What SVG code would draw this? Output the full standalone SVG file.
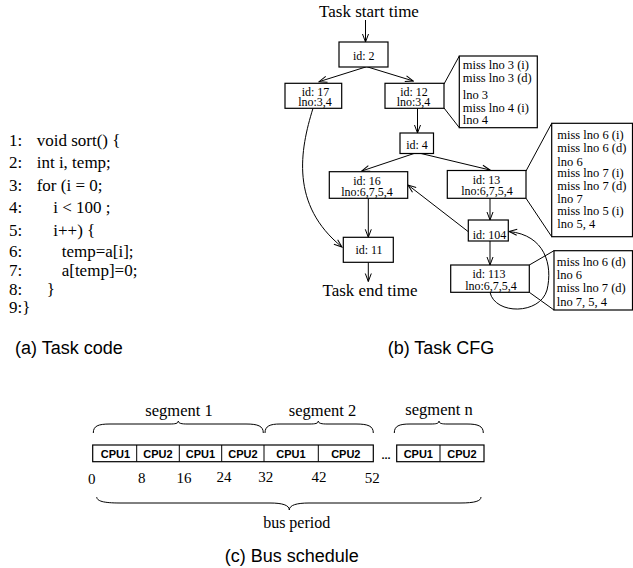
<svg xmlns="http://www.w3.org/2000/svg" width="633" height="568" viewBox="0 0 633 568">
<style>
.s{font-family:"Liberation Serif",serif;fill:#000}
.code{font-size:17px}
.big{font-size:17px}
.bx{font-size:12px;text-anchor:middle}
.dt{font-size:12.5px}
.cap{font-family:"Liberation Sans",sans-serif;font-size:18px;fill:#000}
.cpu{font-family:"Liberation Sans",sans-serif;font-size:11px;font-weight:bold;text-anchor:middle}
.num{font-size:15px;text-anchor:middle}
.box{fill:#fff;stroke:#000;stroke-width:1.2}
.ln{fill:none;stroke:#000;stroke-width:1}
.ar{fill:none;stroke:#000;stroke-width:1;marker-end:url(#ah)}
</style>
<defs>
<marker id="ah" markerWidth="10" markerHeight="8" refX="9" refY="4" orient="auto" markerUnits="userSpaceOnUse">
<path d="M1,1 L9,4 L1,7" fill="none" stroke="#000" stroke-width="1"/>
</marker>
</defs>
<rect width="633" height="568" fill="#fff"/>

<g id="code" class="s code">
<text x="9" y="146">1:</text><text x="36.7" y="146">void sort() {</text>
<text x="9" y="168">2:</text><text x="36.7" y="168">int i, temp;</text>
<text x="9" y="190.5">3:</text><text x="36.7" y="190.5">for (i = 0;</text>
<text x="9" y="213">4:</text><text x="53.3" y="213">i &lt; 100 ;</text>
<text x="9" y="235.5">5:</text><text x="53.3" y="235.5">i++) {</text>
<text x="9" y="257">6:</text><text x="61.7" y="257">temp=a[i];</text>
<text x="9" y="275.5">7:</text><text x="61.7" y="275.5">a[temp]=0;</text>
<text x="9" y="295">8:</text><text x="46.7" y="295">}</text>
<text x="9" y="313.3">9:}</text>
</g>
<text class="cap" x="15" y="354">(a) Task code</text>

<g id="connectors">
<line class="ar" x1="365.5" y1="20" x2="365.5" y2="42"/>
<line class="ar" x1="366.7" y1="66.7" x2="319" y2="81.7"/>
<line class="ar" x1="366.7" y1="66.7" x2="413.3" y2="81"/>
<line class="ar" x1="417.5" y1="108.3" x2="417.5" y2="133"/>
<line class="ar" x1="414" y1="153.5" x2="361.7" y2="171"/>
<line class="ar" x1="421" y1="153.5" x2="490" y2="170"/>
<path class="ar" d="M313,108.3 C300,150 290,205 342,247"/>
<line class="ar" x1="368.3" y1="198.3" x2="368.3" y2="237.3"/>
<line class="ar" x1="368.3" y1="262.3" x2="368.3" y2="281.5"/>
<line class="ar" x1="490" y1="198.3" x2="490" y2="220"/>
<line class="ar" x1="468.3" y1="231.7" x2="408" y2="185"/>
<line class="ar" x1="490" y1="241" x2="490" y2="265"/>
<path class="ar" d="M490,292.3 C495,315 540,315 547,290 C553,265 545,235 509,231.5"/>
<line class="ln" x1="444" y1="84" x2="459.3" y2="56"/>
<line class="ln" x1="444" y1="108" x2="459.3" y2="127.7"/>
<line class="ln" x1="526" y1="171" x2="551.7" y2="123.3"/>
<line class="ln" x1="526" y1="198.3" x2="551.7" y2="236.7"/>
<line class="ln" x1="529.3" y1="265" x2="554" y2="250.7"/>
<line class="ln" x1="529.3" y1="292.3" x2="554" y2="310"/>
</g>

<text class="s big" x="369" y="17" text-anchor="middle">Task start time</text>
<text class="s big" x="370" y="296" text-anchor="middle">Task end time</text>

<g id="n2"><rect class="box" x="339" y="42" width="49" height="25"/><text class="s bx" x="363.8" y="59.5">id: 2</text></g>
<g id="n17"><rect class="box" x="285" y="83.3" width="56.7" height="25"/><text class="s bx" x="315.5" y="95.8">id: 17</text><text class="s bx" x="315" y="106.3">lno:3,4</text></g>
<g id="n12"><rect class="box" x="385" y="83.3" width="59" height="25"/><text class="s bx" x="414" y="95.8">id: 12</text><text class="s bx" x="413.5" y="106.3">lno:3,4</text></g>
<g id="d12"><rect class="box" x="459.3" y="56" width="78" height="71.7"/>
<text class="s dt" x="462.7" y="69">miss lno 3 (i)</text>
<text class="s dt" x="462.7" y="81.7">miss lno 3 (d)</text>
<text class="s dt" x="462.7" y="99.3">lno 3</text>
<text class="s dt" x="462.7" y="111.7">miss lno 4 (i)</text>
<text class="s dt" x="462.7" y="124.3">lno 4</text></g>
<g id="n4"><rect class="box" x="400" y="133" width="33.5" height="20.5"/><text class="s bx" x="417" y="149">id: 4</text></g>
<g id="n16"><rect class="box" x="329.3" y="171.7" width="78.4" height="26.6"/><text class="s bx" x="367" y="184.8">id: 16</text><text class="s bx" x="367" y="196">lno:6,7,5,4</text></g>
<g id="n13"><rect class="box" x="447.3" y="170.5" width="78.7" height="27.8"/><text class="s bx" x="486.5" y="183.5">id: 13</text><text class="s bx" x="487" y="195">lno:6,7,5,4</text></g>
<g id="d13"><rect class="box" x="551.7" y="123.3" width="80.8" height="113.4"/>
<text class="s dt" x="557.3" y="139.3">miss lno 6 (i)</text>
<text class="s dt" x="557.3" y="151.7">miss lno 6 (d)</text>
<text class="s dt" x="557.3" y="165.7">lno 6</text>
<text class="s dt" x="557.3" y="176.7">miss lno 7 (i)</text>
<text class="s dt" x="557.3" y="190">miss lno 7 (d)</text>
<text class="s dt" x="557.3" y="202.7">lno 7</text>
<text class="s dt" x="557.3" y="215">miss lno 5 (i)</text>
<text class="s dt" x="557.3" y="228.3">lno 5, 4</text></g>
<g id="n11"><rect class="box" x="343.3" y="237.3" width="50" height="25"/><text class="s bx" x="369" y="254">id: 11</text></g>
<g id="n104"><rect class="box" x="468.3" y="220" width="40" height="21"/><text class="s bx" x="489.5" y="238.5">id: 104</text></g>
<g id="n113"><rect class="box" x="450.7" y="265" width="78.6" height="27.3"/><text class="s bx" x="489" y="278.3">id: 113</text><text class="s bx" x="491" y="290">lno:6,7,5,4</text></g>
<g id="d113"><rect class="box" x="554" y="250.7" width="78.5" height="59.3"/>
<text class="s dt" x="556.7" y="266">miss lno 6 (d)</text>
<text class="s dt" x="556.7" y="279.3">lno 6</text>
<text class="s dt" x="556.7" y="292.3">miss lno 7 (d)</text>
<text class="s dt" x="556.7" y="305.7">lno 7, 5, 4</text></g>
<text class="cap" x="441" y="354" text-anchor="middle">(b) Task CFG</text>

<g id="bus">
<text class="s" font-size="16.5" x="179" y="416" text-anchor="middle">segment 1</text>
<text class="s" font-size="16.5" x="322.5" y="416" text-anchor="middle">segment 2</text>
<text class="s" font-size="16.5" x="439" y="415" text-anchor="middle">segment n</text>
<path class="ln" d="M93.3,433 C93.3,426 98,424 110,424 L170,424 C175,424 178.3,423.5 178.3,421 C178.3,423.5 182,424 187,424 L246,424 C258,424 263.3,426 263.3,433"/>
<path class="ln" d="M265,433 C265,426 270,424 280,424 L310,424 C315,424 318.3,423.5 318.3,421 C318.3,423.5 322,424 327,424 L356,424 C368,424 373.3,426 373.3,433"/>
<path class="ln" d="M394.3,433 C394.3,426 399,424 410,424 L431,424 C436,424 439,423.5 439,421 C439,423.5 442,424 447,424 L467,424 C478,424 483.3,426 483.3,433"/>
<rect class="box" x="92.7" y="445" width="280.6" height="16.7"/>
<line class="ln" x1="136.7" y1="445" x2="136.7" y2="461.7"/>
<line class="ln" x1="179.3" y1="445" x2="179.3" y2="461.7"/>
<line class="ln" x1="221.7" y1="445" x2="221.7" y2="461.7"/>
<line class="ln" x1="264" y1="445" x2="264" y2="461.7"/>
<line class="ln" x1="318.3" y1="445" x2="318.3" y2="461.7"/>
<text class="cpu" x="115.5" y="458">CPU1</text>
<text class="cpu" x="158" y="458">CPU2</text>
<text class="cpu" x="200.5" y="458">CPU1</text>
<text class="cpu" x="243" y="458">CPU2</text>
<text class="cpu" x="291" y="458">CPU1</text>
<text class="cpu" x="345.8" y="458">CPU2</text>
<text class="cpu" x="386" y="459" font-size="12">...</text>
<rect class="box" x="396.7" y="445" width="87.3" height="16.7"/>
<line class="ln" x1="440" y1="445" x2="440" y2="461.7"/>
<text class="cpu" x="418.3" y="458">CPU1</text>
<text class="cpu" x="462" y="458">CPU2</text>
<text class="s num" x="91.7" y="484">0</text>
<text class="s num" x="141.7" y="483">8</text>
<text class="s num" x="184" y="483">16</text>
<text class="s num" x="224" y="481.5">24</text>
<text class="s num" x="265.7" y="481.5">32</text>
<text class="s num" x="319" y="481.5">42</text>
<text class="s num" x="372.3" y="483">52</text>
<path class="ln" d="M96.7,497 C97,501 103,503 120,503 L270,503 C282,503 289.3,505 289.3,510 C289.3,505 297,503 309,503 L460,503 C475,503 481,501 481,497"/>
<text class="s" font-size="16" x="296.7" y="528.3" text-anchor="middle">bus period</text>
</g>
<text class="cap" x="291.7" y="561.5" text-anchor="middle">(c) Bus schedule</text>
</svg>
